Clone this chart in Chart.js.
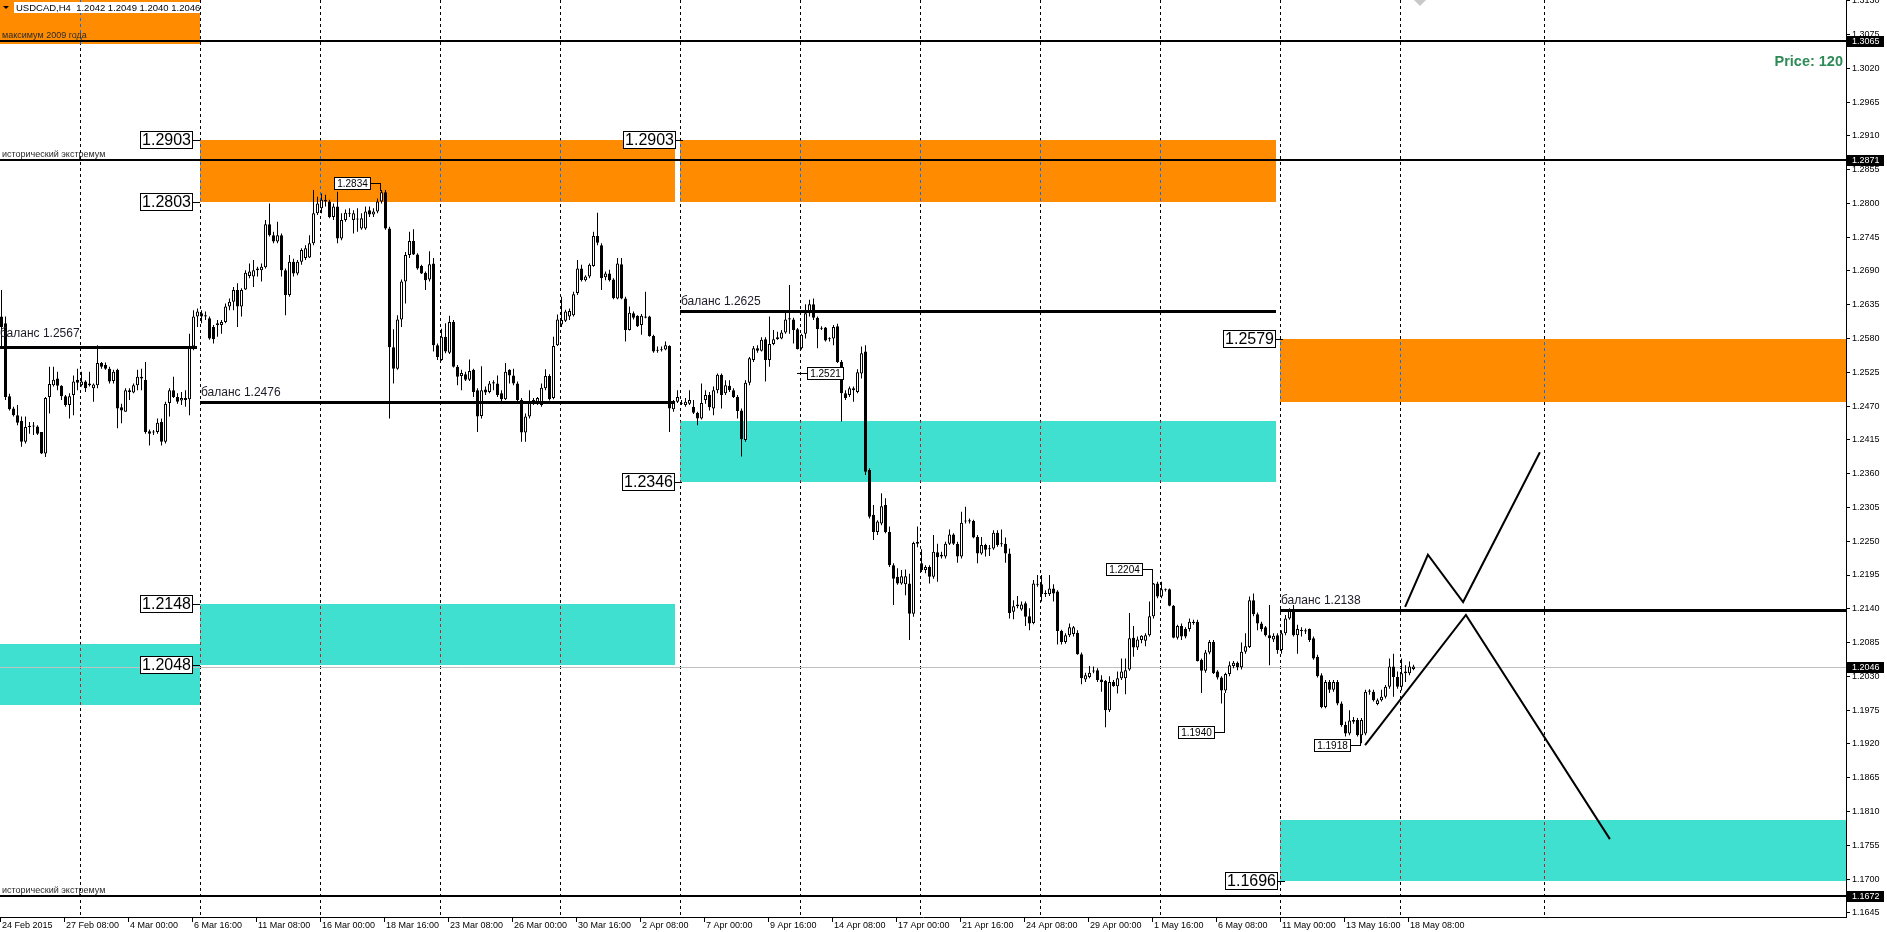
<!DOCTYPE html>
<html><head><meta charset="utf-8">
<script src="https://cdn.jsdelivr.net/npm/chart.js@4/dist/chart.umd.min.js"></script>
<style>html,body{margin:0;padding:0;background:#fff;overflow:hidden}#wrap{position:relative;width:1887px;height:932px}</style>
</head><body><div id="wrap"><canvas id="c"></canvas></div>
<script>
// ---------- DATA (USDCAD H4) ----------
const openP = [
1.2616,1.2605,1.2486,1.2466,1.2455,1.2446,1.2412,1.2436,1.2437,1.2437,
1.2428,1.2393,1.2485,1.2504,1.2515,1.2503,1.2486,1.2472,1.2488,1.2513,
1.2504,1.2510,1.2504,1.2499,1.2504,1.2540,1.2537,1.2531,1.2511,1.2529,
1.2468,1.2461,1.2493,1.2492,1.2504,1.2518,1.2513,1.2429,1.2428,1.2428,
1.2444,1.2412,1.2475,1.2496,1.2485,1.2479,1.2480,1.2481,1.2567,1.2616,
1.2621,1.2616,1.2613,1.2599,1.2602,1.2602,1.2607,1.2632,1.2640,1.2659,
1.2632,1.2660,1.2682,1.2681,1.2694,1.2691,1.2696,1.2766,1.2748,1.2738,
1.2748,1.2691,1.2651,1.2705,1.2686,1.2705,1.2711,1.2712,1.2735,1.2784,
1.2792,1.2806,1.2803,1.2778,1.2795,1.2743,1.2773,1.2783,1.2773,1.2774,
1.2759,1.2759,1.2789,1.2782,1.2787,1.2803,1.2818,1.2759,1.2566,1.2531,
1.2611,1.2673,1.2716,1.2739,1.2717,1.2698,1.2687,1.2676,1.2702,1.2569,
1.2545,1.2583,1.2557,1.2607,1.2534,1.2519,1.2522,1.2513,1.2529,1.2496,
1.2454,1.2497,1.2493,1.2507,1.2507,1.2491,1.2481,1.2529,1.2520,1.2507,
1.2480,1.2427,1.2453,1.2480,1.2474,1.2472,1.2499,1.2519,1.2483,1.2569,
1.2603,1.2609,1.2616,1.2618,1.2654,1.2694,1.2675,1.2681,1.2698,1.2747,
1.2732,1.2680,1.2686,1.2676,1.2645,1.2701,1.2645,1.2594,1.2621,1.2617,
1.2602,1.2616,1.2616,1.2584,1.2561,1.2562,1.2562,1.2568,1.2465,1.2477,
1.2475,1.2472,1.2474,1.2469,1.2459,1.2450,1.2480,1.2488,1.2466,1.2496,
1.2521,1.2491,1.2503,1.2496,1.2485,1.2463,1.2415,1.2508,1.2545,1.2564,
1.2560,1.2579,1.2545,1.2571,1.2579,1.2580,1.2590,1.2613,1.2611,1.2595,
1.2564,1.2588,1.2621,1.2636,1.2614,1.2597,1.2598,1.2580,1.2580,1.2600,
1.2542,1.2491,1.2488,1.2496,1.2493,1.2523,1.2559,1.2366,1.2293,1.2265,
1.2279,1.2309,1.2265,1.2211,1.2192,1.2181,1.2180,1.2181,1.2132,1.2246,
1.2214,1.2203,1.2208,1.2192,1.2232,1.2225,1.2225,1.2246,1.2261,1.2246,
1.2225,1.2282,1.2282,1.2283,1.2257,1.2230,1.2244,1.2238,1.2238,1.2264,
1.2246,1.2246,1.2230,1.2135,1.2144,1.2139,1.2149,1.2128,1.2117,1.2180,
1.2180,1.2165,1.2164,1.2173,1.2168,1.2104,1.2086,1.2097,1.2099,1.2101,
1.2066,1.2025,1.2029,1.2038,1.2040,1.2025,1.2023,1.1975,1.2021,1.2014,
1.2027,1.2027,1.2041,1.2093,1.2077,1.2089,1.2088,1.2097,1.2128,1.2181,
1.2160,1.2172,1.2172,1.2145,1.2093,1.2112,1.2107,1.2107,1.2117,1.2119,
1.2057,1.2039,1.2069,1.2086,1.2038,1.2028,1.2007,1.2034,1.2047,1.2052,
1.2045,1.2070,1.2078,1.2154,1.2131,1.2116,1.2110,1.2097,1.2090,1.2097,
1.2073,1.2100,1.2124,1.2137,1.2097,1.2105,1.2103,1.2107,1.2092,1.2062,
1.2032,1.1980,1.2021,1.2008,1.2021,1.1986,1.1951,1.1937,1.1956,1.1959,
1.1934,1.1937,1.2005,1.2005,1.1985,1.1991,1.1997,1.2013,1.2046,1.2029,
1.2013,1.2035,1.2035,1.2042];
const highP = [
1.2659,1.2616,1.2490,1.2469,1.2472,1.2453,1.2453,1.2444,1.2444,1.2439,
1.2428,1.2485,1.2534,1.2534,1.2526,1.2504,1.2488,1.2491,1.2520,1.2531,
1.2526,1.2512,1.2526,1.2507,1.2569,1.2542,1.2541,1.2534,1.2529,1.2531,
1.2474,1.2499,1.2499,1.2507,1.2529,1.2531,1.2542,1.2432,1.2431,1.2450,
1.2450,1.2477,1.2499,1.2518,1.2491,1.2493,1.2496,1.2588,1.2626,1.2629,
1.2626,1.2624,1.2616,1.2602,1.2610,1.2610,1.2637,1.2645,1.2664,1.2670,
1.2662,1.2691,1.2702,1.2708,1.2697,1.2702,1.2773,1.2800,1.2754,1.2770,
1.2751,1.2694,1.2716,1.2710,1.2708,1.2727,1.2732,1.2748,1.2822,1.2811,
1.2816,1.2814,1.2806,1.2800,1.2819,1.2784,1.2790,1.2792,1.2789,1.2792,
1.2784,1.2795,1.2795,1.2792,1.2808,1.2822,1.2822,1.2762,1.2595,1.2618,
1.2676,1.2721,1.2754,1.2758,1.2719,1.2700,1.2689,1.2722,1.2711,1.2572,
1.2596,1.2605,1.2617,1.2610,1.2537,1.2529,1.2526,1.2546,1.2531,1.2499,
1.2535,1.2502,1.2511,1.2512,1.2520,1.2496,1.2540,1.2530,1.2531,1.2510,
1.2483,1.2458,1.2496,1.2483,1.2485,1.2507,1.2530,1.2522,1.2583,1.2619,
1.2648,1.2627,1.2629,1.2656,1.2708,1.2700,1.2683,1.2702,1.2754,1.2785,
1.2735,1.2689,1.2692,1.2678,1.2711,1.2711,1.2648,1.2632,1.2624,1.2618,
1.2620,1.2656,1.2617,1.2586,1.2567,1.2567,1.2575,1.2569,1.2480,1.2496,
1.2480,1.2483,1.2496,1.2480,1.2461,1.2507,1.2496,1.2493,1.2502,1.2523,
1.2523,1.2512,1.2512,1.2499,1.2488,1.2466,1.2512,1.2550,1.2568,1.2569,
1.2582,1.2582,1.2616,1.2594,1.2591,1.2594,1.2624,1.2667,1.2614,1.2597,
1.2588,1.2636,1.2643,1.2645,1.2616,1.2600,1.2599,1.2582,1.2602,1.2604,
1.2545,1.2496,1.2502,1.2502,1.2530,1.2567,1.2569,1.2369,1.2309,1.2284,
1.2328,1.2320,1.2274,1.2214,1.2206,1.2203,1.2204,1.2197,1.2249,1.2274,
1.2237,1.2211,1.2211,1.2260,1.2246,1.2233,1.2249,1.2269,1.2263,1.2249,
1.2298,1.2306,1.2287,1.2285,1.2260,1.2257,1.2246,1.2244,1.2268,1.2268,
1.2269,1.2256,1.2238,1.2154,1.2161,1.2152,1.2152,1.2141,1.2187,1.2195,
1.2195,1.2170,1.2195,1.2180,1.2170,1.2106,1.2100,1.2116,1.2112,1.2105,
1.2069,1.2036,1.2047,1.2046,1.2043,1.2032,1.2024,1.2030,1.2024,1.2038,
1.2059,1.2059,1.2133,1.2112,1.2095,1.2097,1.2100,1.2152,1.2182,1.2184,
1.2184,1.2173,1.2173,1.2146,1.2114,1.2116,1.2110,1.2124,1.2122,1.2122,
1.2059,1.2073,1.2089,1.2089,1.2040,1.2030,1.2036,1.2054,1.2055,1.2054,
1.2085,1.2100,1.2160,1.2165,1.2134,1.2119,1.2112,1.2146,1.2100,1.2100,
1.2105,1.2130,1.2141,1.2146,1.2114,1.2110,1.2108,1.2108,1.2095,1.2065,
1.2035,1.2024,1.2024,1.2024,1.2024,1.1989,1.1956,1.1975,1.1964,1.1962,
1.1962,1.2008,1.2009,1.2008,1.1994,1.2008,1.2016,1.2059,1.2067,1.2038,
1.2059,1.2048,1.2054,1.2049];
const lowP = [
1.2567,1.2480,1.2463,1.2453,1.2439,1.2404,1.2409,1.2425,1.2423,1.2423,
1.2392,1.2387,1.2458,1.2502,1.2496,1.2480,1.2469,1.2450,1.2455,1.2496,
1.2502,1.2493,1.2502,1.2477,1.2499,1.2531,1.2529,1.2507,1.2507,1.2434,
1.2442,1.2461,1.2480,1.2491,1.2496,1.2496,1.2425,1.2406,1.2423,1.2425,
1.2406,1.2409,1.2453,1.2483,1.2474,1.2472,1.2469,1.2455,1.2561,1.2599,
1.2605,1.2610,1.2578,1.2572,1.2583,1.2588,1.2605,1.2626,1.2626,1.2599,
1.2616,1.2659,1.2678,1.2664,1.2681,1.2673,1.2694,1.2746,1.2735,1.2735,
1.2681,1.2618,1.2648,1.2681,1.2683,1.2700,1.2708,1.2711,1.2732,1.2781,
1.2784,1.2795,1.2776,1.2773,1.2735,1.2740,1.2770,1.2778,1.2751,1.2754,
1.2757,1.2757,1.2778,1.2778,1.2784,1.2800,1.2757,1.2450,1.2507,1.2529,
1.2599,1.2637,1.2711,1.2716,1.2692,1.2685,1.2659,1.2673,1.2559,1.2545,
1.2544,1.2556,1.2555,1.2533,1.2504,1.2496,1.2511,1.2511,1.2485,1.2428,
1.2450,1.2488,1.2491,1.2496,1.2485,1.2474,1.2480,1.2507,1.2504,1.2477,
1.2412,1.2412,1.2450,1.2472,1.2472,1.2469,1.2496,1.2479,1.2481,1.2568,
1.2599,1.2607,1.2610,1.2616,1.2651,1.2673,1.2673,1.2678,1.2697,1.2732,
1.2659,1.2675,1.2673,1.2644,1.2644,1.2644,1.2575,1.2593,1.2611,1.2599,
1.2586,1.2613,1.2583,1.2557,1.2557,1.2559,1.2561,1.2428,1.2461,1.2475,
1.2472,1.2469,1.2472,1.2457,1.2439,1.2448,1.2474,1.2463,1.2455,1.2491,
1.2466,1.2488,1.2493,1.2483,1.2450,1.2388,1.2412,1.2504,1.2542,1.2557,
1.2559,1.2510,1.2534,1.2569,1.2578,1.2579,1.2588,1.2588,1.2572,1.2562,
1.2562,1.2580,1.2616,1.2610,1.2564,1.2594,1.2575,1.2575,1.2569,1.2540,
1.2445,1.2480,1.2485,1.2477,1.2491,1.2515,1.2358,1.2287,1.2252,1.2260,
1.2276,1.2263,1.2208,1.2146,1.2179,1.2179,1.2162,1.2089,1.2127,1.2240,
1.2200,1.2198,1.2181,1.2189,1.2184,1.2222,1.2222,1.2244,1.2244,1.2215,
1.2222,1.2279,1.2279,1.2255,1.2214,1.2228,1.2225,1.2226,1.2236,1.2241,
1.2241,1.2215,1.2124,1.2123,1.2141,1.2137,1.2112,1.2105,1.2115,1.2176,
1.2152,1.2159,1.2161,1.2152,1.2082,1.2082,1.2083,1.2094,1.2095,1.2065,
1.2017,1.2021,1.2027,1.2035,1.2021,1.2005,1.1947,1.1972,1.2013,1.2002,
1.2024,1.2001,1.2039,1.2062,1.2073,1.2084,1.2079,1.2095,1.2124,1.2157,
1.2157,1.2168,1.2144,1.2092,1.2090,1.2089,1.2092,1.2103,1.2114,1.2054,
1.2003,1.2036,1.2066,1.2034,1.2025,1.1986,1.2003,1.2030,1.2043,1.2040,
1.2041,1.2067,1.2076,1.2128,1.2105,1.2103,1.2095,1.2048,1.2086,1.2067,
1.2067,1.2097,1.2122,1.2095,1.2067,1.2095,1.2099,1.2086,1.2057,1.2028,
1.1978,1.1978,1.2003,1.2005,1.1983,1.1948,1.1932,1.1934,1.1953,1.1932,
1.1921,1.1934,1.2000,1.1989,1.1983,1.1989,1.1994,1.2010,1.1997,1.2010,
1.2007,1.2021,1.2032,1.2040];
const closeP = [
1.2599,1.2485,1.2465,1.2455,1.2443,1.2412,1.2436,1.2438,1.2438,1.2425,
1.2393,1.2483,1.2506,1.2513,1.2503,1.2486,1.2472,1.2486,1.2510,1.2508,
1.2510,1.2499,1.2507,1.2505,1.2540,1.2534,1.2531,1.2510,1.2526,1.2466,
1.2463,1.2496,1.2496,1.2504,1.2518,1.2515,1.2428,1.2425,1.2427,1.2443,
1.2412,1.2474,1.2496,1.2485,1.2477,1.2483,1.2483,1.2567,1.2616,1.2624,
1.2616,1.2618,1.2580,1.2579,1.2605,1.2607,1.2632,1.2640,1.2659,1.2632,
1.2659,1.2687,1.2689,1.2691,1.2691,1.2697,1.2766,1.2748,1.2738,1.2748,
1.2691,1.2651,1.2705,1.2686,1.2705,1.2724,1.2727,1.2735,1.2784,1.2800,
1.2806,1.2803,1.2778,1.2795,1.2743,1.2773,1.2785,1.2785,1.2784,1.2775,
1.2776,1.2787,1.2782,1.2787,1.2803,1.2818,1.2759,1.2566,1.2531,1.2611,
1.2673,1.2716,1.2739,1.2717,1.2694,1.2686,1.2675,1.2701,1.2569,1.2550,
1.2583,1.2559,1.2607,1.2534,1.2518,1.2524,1.2513,1.2527,1.2493,1.2453,
1.2496,1.2492,1.2507,1.2509,1.2488,1.2481,1.2526,1.2520,1.2507,1.2480,
1.2427,1.2453,1.2475,1.2477,1.2483,1.2500,1.2519,1.2481,1.2568,1.2611,
1.2610,1.2624,1.2625,1.2652,1.2694,1.2675,1.2681,1.2700,1.2747,1.2736,
1.2678,1.2686,1.2675,1.2646,1.2702,1.2645,1.2594,1.2622,1.2614,1.2600,
1.2617,1.2614,1.2584,1.2559,1.2560,1.2561,1.2569,1.2466,1.2477,1.2485,
1.2474,1.2477,1.2480,1.2459,1.2450,1.2475,1.2488,1.2468,1.2496,1.2521,
1.2488,1.2504,1.2496,1.2485,1.2462,1.2416,1.2508,1.2548,1.2564,1.2560,
1.2578,1.2545,1.2571,1.2579,1.2582,1.2590,1.2611,1.2611,1.2594,1.2563,
1.2586,1.2621,1.2636,1.2614,1.2595,1.2596,1.2577,1.2579,1.2599,1.2542,
1.2491,1.2483,1.2499,1.2499,1.2525,1.2556,1.2363,1.2290,1.2265,1.2282,
1.2307,1.2265,1.2211,1.2189,1.2181,1.2193,1.2193,1.2132,1.2247,1.2249,
1.2203,1.2208,1.2192,1.2233,1.2224,1.2228,1.2246,1.2261,1.2246,1.2225,
1.2280,1.2283,1.2284,1.2256,1.2230,1.2244,1.2236,1.2237,1.2264,1.2244,
1.2245,1.2230,1.2133,1.2144,1.2147,1.2147,1.2127,1.2116,1.2181,1.2179,
1.2164,1.2164,1.2173,1.2165,1.2104,1.2086,1.2097,1.2110,1.2110,1.2066,
1.2027,1.2032,1.2036,1.2039,1.2024,1.2021,1.1975,1.2021,1.2014,1.2027,
1.2038,1.2040,1.2092,1.2077,1.2090,1.2096,1.2097,1.2128,1.2181,1.2160,
1.2172,1.2171,1.2145,1.2093,1.2112,1.2095,1.2095,1.2119,1.2119,1.2055,
1.2039,1.2069,1.2086,1.2035,1.2028,1.2007,1.2034,1.2048,1.2052,1.2045,
1.2070,1.2079,1.2154,1.2131,1.2116,1.2107,1.2097,1.2092,1.2096,1.2073,
1.2100,1.2124,1.2137,1.2097,1.2107,1.2104,1.2105,1.2089,1.2059,1.2030,
1.1980,1.2021,1.2008,1.2021,1.1986,1.1951,1.1937,1.1958,1.1959,1.1934,
1.1959,1.2005,1.2007,1.1991,1.1991,1.1997,1.2013,1.2046,1.2029,1.2013,
1.2035,1.2038,1.2046,1.2046];

const xTickBars = [0,16,32,48,64,80,96,112,128,144,160,176,192,208,224,240,256,272,288,304,320,336,352];
const xTickLabels = ['24 Feb 2015','27 Feb 08:00','4 Mar 00:00','6 Mar 16:00','11 Mar 08:00','16 Mar 00:00','18 Mar 16:00','23 Mar 08:00','26 Mar 00:00','30 Mar 16:00','2 Apr 08:00','7 Apr 00:00','9 Apr 16:00','14 Apr 08:00','17 Apr 00:00','21 Apr 16:00','24 Apr 08:00','29 Apr 00:00','1 May 16:00','6 May 08:00','11 May 00:00','13 May 16:00','18 May 08:00'];
const yTickLabels = ['1.3130','1.3075','1.3020','1.2965','1.2910','1.2855','1.2800','1.2745','1.2690','1.2635','1.2580','1.2525','1.2470','1.2415','1.2360','1.2305','1.2250','1.2195','1.2140','1.2085','1.2030','1.1975','1.1920','1.1865','1.1810','1.1755','1.1700','1.1645'];
const gridBars = [20,50,80,110,140,170,200,230,260,290,320,350,386];

// zones (supply = orange, demand = turquoise), bar-index spans
const zoneFrom   = [-2,   49.6,  169.6, 319.6, -2,    49.6,  169.6, 319.6];
const zoneTo     = [49.6, 168.4, 318.6, 470,   49.6,  168.4, 318.6, 470];
const zoneTop    = [1.3200,1.2903,1.2903,1.2579,1.2083,1.2148,1.2446,1.1796];
const zoneBottom = [1.3060,1.2803,1.2803,1.2477,1.1983,1.2048,1.2346,1.1696];
const zoneKind   = ['s','s','s','s','d','d','d','d'];

// balance lines
const balFrom  = [-2, 49.6, 169.6, 319.6];
const balTo    = [48.9, 168.4, 318.6, 470];
const balPrice = [1.2567, 1.2476, 1.2625, 1.2138];

// horizontal levels across the chart
const levelPrice = [1.3065, 1.2871, 1.1672];
const levelText  = ['максимум 2009 года', 'исторический экстремум', 'исторический экстремум'];
const lastPrice = 1.2046;

// big price labels at zone edges
const bigLabelText  = ['1.2903','1.2803','1.2903','1.2346','1.2148','1.2048','1.2579','1.1696'];
const bigLabelPrice = [1.2903, 1.2803, 1.2903, 1.2346, 1.2148, 1.2048, 1.2579, 1.1696];
const bigLabelBar   = [49.6, 49.6, 170.4, 170.0, 49.6, 49.6, 320.4, 320.9];

// small price labels with connectors
const smallText   = ['1.2834','1.2521','1.2204','1.1940','1.1918'];
const smallPrice  = [1.2834, 1.2524, 1.2204, 1.1940, 1.1918];
const smallBar    = [94.6, 198.9, 287.7, 305.7, 339.6];
const smallAnchor = [1.2822, 1.2524, 1.2182, 1.2003, 1.1939];
const smallSide   = ['L','R','L','L','L'];

// hand-drawn forecast lines
const trendAX = [340.9, 366.1, 402.1];
const trendAY = [1.1918, 1.2130, 1.1765];
const trendBX = [350.9, 356.6, 365.4, 384.6];
const trendBY = [1.2143, 1.2228, 1.2151, 1.2395];

const axisMarks = [1.3065, 1.2871, 1.2046, 1.1672];
const titleText = 'USDCAD,H4  1.2042 1.2049 1.2040 1.2046';
const priceText = 'Price: 120';

// ---------- CHART ----------
const FONT = "'Liberation Sans', Arial, sans-serif";
const idx = openP.map((_, i) => i);
const wickData = idx.map(i => ({x: i, y: [lowP[i], highP[i]]}));
const bodyData = idx.map(i => ({x: i, y: [openP[i], closeP[i]]}));
const bodyColors = idx.map(i => closeP[i] >= openP[i] ? '#ffffff' : '#000000');

const overlay = {
  id: 'overlay',
  beforeDatasetsDraw(chart) {
    const {ctx, chartArea: a, scales: {x, y}} = chart;
    ctx.save();
    ctx.beginPath(); ctx.rect(a.left, a.top, a.right - a.left, a.bottom - a.top); ctx.clip();
    const gx = b => Math.floor(x.getPixelForValue(b)) - 1 + 0.5;
    const drawGrid = (col) => {
      ctx.strokeStyle = col; ctx.lineWidth = 1; ctx.setLineDash([3, 3]);
      gridBars.forEach(b => { const px = gx(b); ctx.beginPath(); ctx.moveTo(px, a.top); ctx.lineTo(px, a.bottom); ctx.stroke(); });
      ctx.setLineDash([]);
    };
    drawGrid('#000000');
    zoneFrom.forEach((f, k) => {
      const x1 = Math.round(x.getPixelForValue(f)), x2 = Math.round(x.getPixelForValue(zoneTo[k]));
      const y1 = Math.round(y.getPixelForValue(zoneTop[k])), y2 = Math.round(y.getPixelForValue(zoneBottom[k]));
      ctx.fillStyle = zoneKind[k] === 's' ? '#FF8C00' : '#40E0D0';
      ctx.fillRect(x1, y1, x2 - x1, y2 - y1);
      ctx.save(); ctx.beginPath(); ctx.rect(x1, y1, x2 - x1, y2 - y1); ctx.clip();
      drawGrid(zoneKind[k] === 's' ? '#0073FF' : '#BF1F2F');
      ctx.restore();
    });
    // last price line
    const ly = Math.round(y.getPixelForValue(lastPrice)) + 0.5;
    ctx.strokeStyle = '#C0C0C0'; ctx.lineWidth = 1;
    ctx.beginPath(); ctx.moveTo(a.left, ly); ctx.lineTo(a.right, ly); ctx.stroke();
    ctx.restore();
  },
  afterDatasetsDraw(chart) {
    const {ctx, chartArea: a, scales: {x, y}} = chart;
    ctx.save();
    ctx.beginPath(); ctx.rect(a.left, a.top, a.right - a.left, a.bottom - a.top); ctx.clip();
    ctx.fillStyle = '#000';
    // levels
    levelPrice.forEach((p, k) => {
      const py = Math.round(y.getPixelForValue(p));
      ctx.fillStyle = '#000'; ctx.fillRect(a.left, py - 1, a.right - a.left, 2);
      ctx.fillStyle = '#2a2a2a'; ctx.font = '9px ' + FONT; ctx.textBaseline = 'alphabetic'; ctx.textAlign = 'left';
      ctx.fillText(levelText[k], 2, py - 3);
    });
    // balance lines
    balPrice.forEach((p, k) => {
      const py = Math.round(y.getPixelForValue(p));
      const x1 = Math.round(x.getPixelForValue(balFrom[k])), x2 = Math.round(x.getPixelForValue(balTo[k]));
      ctx.fillStyle = '#000'; ctx.fillRect(x1, py - 1, x2 - x1, 3);
      ctx.fillStyle = '#1c1c28'; ctx.font = '12px ' + FONT; ctx.textAlign = 'left'; ctx.textBaseline = 'alphabetic';
      ctx.fillText('баланс ' + p.toFixed(4), Math.max(x1, -1) + 1, py - (k === 0 ? 10 : 6));
    });
    // big labels
    ctx.font = '16px ' + FONT; ctx.textBaseline = 'middle'; ctx.textAlign = 'center';
    bigLabelText.forEach((t, k) => {
      const ax = Math.round(x.getPixelForValue(bigLabelBar[k]));
      const py = Math.round(y.getPixelForValue(bigLabelPrice[k]));
      const w = 53, h = 18, bx = ax - 7 - w, by = py - 9;
      ctx.fillStyle = '#000'; ctx.fillRect(bx + w, py, ax - bx - w, 1);
      ctx.fillStyle = '#fff'; ctx.fillRect(bx, by, w, h);
      ctx.strokeStyle = '#000'; ctx.lineWidth = 1; ctx.strokeRect(bx + 0.5, by + 0.5, w - 1, h - 1);
      ctx.fillStyle = '#000'; ctx.fillText(t, bx + w / 2, py + 1);
    });
    // small labels
    ctx.font = '10px ' + FONT;
    smallText.forEach((t, k) => {
      const ax = Math.round(x.getPixelForValue(smallBar[k]));
      const py = Math.round(y.getPixelForValue(smallPrice[k]));
      const ay = Math.round(y.getPixelForValue(smallAnchor[k]));
      const w = 37, h = 13;
      let bx;
      ctx.fillStyle = '#000';
      if (smallSide[k] === 'L') {
        bx = ax - 9 - w;
        ctx.fillRect(bx + w, py, ax - bx - w, 1);
        ctx.fillRect(ax, Math.min(py, ay), 1, Math.abs(ay - py) + 1);
      } else {
        bx = ax + 10;
        ctx.fillRect(ax, py, 10, 1);
      }
      ctx.fillStyle = '#fff'; ctx.fillRect(bx, py - 6, w, h);
      ctx.strokeStyle = '#000'; ctx.strokeRect(bx + 0.5, py - 6 + 0.5, w - 1, h - 1);
      ctx.fillStyle = '#000'; ctx.textAlign = 'center'; ctx.textBaseline = 'middle';
      ctx.fillText(t, bx + w / 2, py + 1);
    });
    ctx.restore();
  },
  afterDraw(chart) {
    const {ctx, chartArea: a, scales: {x, y}} = chart;
    ctx.save();
    // axis price marks
    ctx.font = '9px ' + FONT; ctx.textAlign = 'left'; ctx.textBaseline = 'middle';
    axisMarks.forEach(p => {
      const py = Math.round(y.getPixelForValue(p));
      ctx.fillStyle = '#000'; ctx.fillRect(a.right + 1, py - 5, 37, 11);
      ctx.fillStyle = '#fff'; ctx.fillText(p.toFixed(4), a.right + 6, py + 0.5);
    });
    // x axis ticks + labels
    ctx.fillStyle = '#000'; ctx.textBaseline = 'alphabetic';
    xTickBars.forEach((b, k) => {
      const px = Math.floor(x.getPixelForValue(b)) - 1;
      ctx.fillRect(px, a.bottom + 1, 1, 4);
      ctx.fillText(xTickLabels[k], Math.max(px + 2, 0), a.bottom + 11);
    });
    // title
    ctx.fillStyle = '#fff'; ctx.fillRect(14, 2, 186, 11);
    ctx.fillStyle = '#000';
    ctx.beginPath(); ctx.moveTo(3, 6); ctx.lineTo(9, 6); ctx.lineTo(6, 9); ctx.closePath(); ctx.fill();
    ctx.font = '9.5px ' + FONT; ctx.textBaseline = 'alphabetic';
    ctx.fillText(titleText, 16, 11);
    // price text
    ctx.fillStyle = '#2E8B57'; ctx.font = 'bold 14.5px ' + FONT; ctx.textAlign = 'right';
    ctx.fillText(priceText, a.right - 3, 66);
    // shift marker
    const sx = Math.round(x.getPixelForValue(354.6));
    ctx.fillStyle = '#C8C8C8';
    ctx.beginPath(); ctx.moveTo(sx - 6, 0); ctx.lineTo(sx + 6, 0); ctx.lineTo(sx, 6); ctx.closePath(); ctx.fill();
    ctx.restore();
  }
};

new Chart(document.getElementById('c'), {
  type: 'bar',
  data: {
    datasets: [
      {type: 'bar', data: bodyData, backgroundColor: bodyColors, borderColor: '#000', borderWidth: 1, borderSkipped: false,
       grouped: false, maxBarThickness: 3, barPercentage: 1, categoryPercentage: 1, inflateAmount: 0, minBarLength: 1, order: 1},
      {type: 'bar', data: wickData, backgroundColor: '#000', borderWidth: 0, grouped: false, maxBarThickness: 1,
       barPercentage: 1, categoryPercentage: 1, inflateAmount: 0, order: 2},
      {type: 'line', data: trendAX.map((v, i) => ({x: v, y: trendAY[i]})), borderColor: '#000', borderWidth: 2, pointRadius: 0, tension: 0, order: 0},
      {type: 'line', data: trendBX.map((v, i) => ({x: v, y: trendBY[i]})), borderColor: '#000', borderWidth: 2, pointRadius: 0, tension: 0, order: 0}
    ]
  },
  options: {
    responsive: true, maintainAspectRatio: false, animation: false, devicePixelRatio: 1,
    layout: {padding: 0},
    plugins: {legend: {display: false}, tooltip: {enabled: false}},
    scales: {
      x: {type: 'linear', min: -0.375, max: 461.125, offset: false, position: 'bottom',
          grid: {display: false}, ticks: {display: false}, border: {display: true, color: '#000', width: 1},
          afterFit: s => { s.height = 15; s.paddingLeft = 0; s.paddingRight = 0; }},
      y: {type: 'linear', position: 'right', min: 1.16382, max: 1.31312,
          grid: {display: true, drawOnChartArea: false, drawTicks: true, tickLength: 4, color: '#000', lineWidth: 1},
          border: {display: true, color: '#000', width: 1},
          ticks: {autoSkip: false, padding: 2, color: '#000', font: {family: FONT, size: 9},
                  callback: (v, i) => yTickLabels[i]},
          afterBuildTicks: s => { s.ticks = yTickLabels.map(t => ({value: parseFloat(t)})); },
          afterFit: s => { s.width = 41; s.paddingTop = 0; s.paddingBottom = 0; }}
    }
  },
  plugins: [overlay]
});
</script></body></html>
